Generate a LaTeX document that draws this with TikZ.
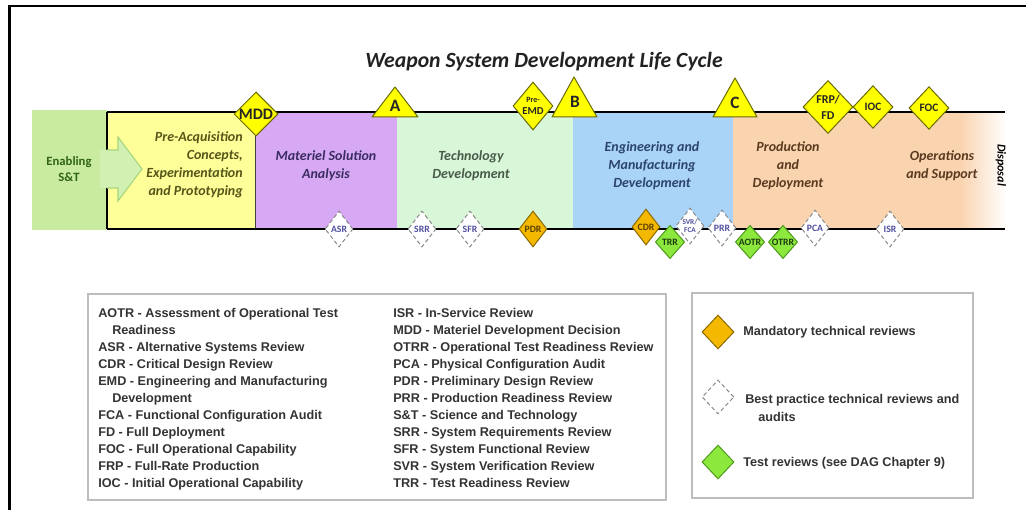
\documentclass[tikz,border=0pt]{standalone}
\usepackage{fontspec}
\setmainfont{Carlito}
\newfontfamily\legfont{Liberation Sans}
\usetikzlibrary{shapes.geometric}
\definecolor{encol}{HTML}{C8EBA0}
\definecolor{arrowfill}{HTML}{D2F0B2}
\definecolor{arrowedge}{HTML}{A4D67C}
\definecolor{yelbox}{HTML}{FFFF99}
\definecolor{purbox}{HTML}{D7A9F5}
\definecolor{grnbox}{HTML}{D8F7D8}
\definecolor{blubox}{HTML}{A9D4F7}
\definecolor{orgbox}{HTML}{FAD3AF}
\definecolor{msyel}{HTML}{FFFF00}
\definecolor{msedge}{HTML}{6B6B00}
\definecolor{mandfill}{HTML}{F5B800}
\definecolor{mandedge}{HTML}{8A6A00}
\definecolor{mandtext}{HTML}{5A4000}
\definecolor{testfill}{HTML}{8CE83C}
\definecolor{testedge}{HTML}{4E9A1E}
\definecolor{testtext}{HTML}{1E3A10}
\definecolor{bpedge}{HTML}{8A8A8A}
\definecolor{bptext}{HTML}{5050A0}
\definecolor{legtext}{HTML}{333333}
\definecolor{legframe}{HTML}{BDBDBD}
\definecolor{titlecol}{HTML}{222222}
\definecolor{entext}{HTML}{2F6414}
\definecolor{pretext}{HTML}{56561A}
\definecolor{mattext}{HTML}{3A2C60}
\definecolor{techtext}{HTML}{4A5A4A}
\definecolor{emdtext}{HTML}{2C4470}
\definecolor{prodtext}{HTML}{5A3A20}
\newcommand{\revd}[5]{\node[#2] (#1) at (#3,#4) {}; \node[#2t] (#1t) at (#1) {#5};}
\begin{document}
\begin{tikzpicture}[x=0.75pt,y=-0.75pt,
  bandline/.style={line width=1.9pt},
  msdia/.style={diamond, inner sep=0pt, fill=msyel, draw=msedge, line width=0.75pt},
  mslab/.style={font=\bfseries, text=black!85, inner sep=0pt, align=center},
  tri/.style={fill=msyel, draw=msedge, line width=0.75pt, line join=round},
  mand/.style={diamond, inner sep=0pt, minimum width=21pt, minimum height=27pt, fill=mandfill, draw=mandedge, line width=0.75pt},
  mandt/.style={font=\fontsize{7.3}{8}\selectfont\bfseries, text=mandtext, inner sep=0pt},
  testr/.style={diamond, inner sep=0pt, minimum width=22pt, minimum height=25pt, fill=testfill, draw=testedge, line width=0.75pt},
  testrt/.style={font=\fontsize{7.3}{8}\selectfont\bfseries, text=testtext, inner sep=0pt},
  bestp/.style={diamond, inner sep=0pt, minimum width=21pt, minimum height=27pt, fill=white, draw=bpedge, line width=0.75pt, dash pattern=on 3pt off 2pt},
  bestpt/.style={font=\fontsize{7.3}{8}\selectfont\bfseries, text=bptext, inner sep=0pt, align=center},
  phase/.style={font=\fontsize{10.5}{13.4}\selectfont\bfseries\itshape, inner sep=0pt, align=center},
  legend/.style={font=\legfont\fontsize{9.5}{12.75}\selectfont\bfseries, text=legtext, inner sep=0pt, align=left},
  legbox/.style={draw=legframe, line width=1.1pt}
]
\useasboundingbox (0,0) rectangle (1026,510);
\fill[white] (0,0) rectangle (1026,510);
% outer frame
\draw[line width=1.9pt] (9.5,510) -- (9.5,6) -- (1026,6);
% title
\node[font=\fontsize{16.3}{19}\selectfont\bfseries\itshape, text=titlecol] (title) at (544,62) {Weapon System Development Life Cycle};
% phase areas
\fill[encol] (32,110) rectangle (107,230);
\fill[yelbox] (107,112) rectangle (255,229);
\fill[purbox] (255,112) rectangle (397,229);
\fill[grnbox] (397,112) rectangle (573,229);
\fill[blubox] (573,112) rectangle (733,229);
\fill[orgbox] (733,112) rectangle (961,229);
\shade[left color=orgbox, right color=white] (960,112) rectangle (1006,229);
\draw[black!75, line width=0.6pt] (255,112) -- (255,229);
\draw[line width=1.5pt] (107,112) -- (107,150) (107,188) -- (107,229);
% enabling arrow
\fill[arrowfill] (100,150) -- (118,150) -- (118,137) -- (142,169) -- (118,201) -- (118,188) -- (100,188) -- cycle;
\draw[arrowedge, line width=0.8pt] (107,150) -- (118,150) -- (118,137) -- (142,169) -- (118,201) -- (118,188) -- (107,188);
% band lines
\draw[bandline] (107,112) -- (1005,112);
\draw[bandline] (107,229) -- (1005,229);
% phase texts
\node[phase, font=\fontsize{9.5}{11.5}\selectfont\bfseries, text=entext] (enab) at (69,169) {Enabling\\S\&T};
\node[phase, align=right, anchor=east, text=pretext] (preacq) at (243,165) {Pre-Acquisition\\Concepts,\\Experimentation\\and Prototyping};
\node[phase, text=mattext] (msa) at (326,166) {Materiel Solution\\Analysis};
\node[phase, text=techtext] (td) at (471,166) {Technology\\Development};
\node[phase, text=emdtext] (emd) at (652,166) {Engineering and\\Manufacturing\\Development};
\node[phase, text=prodtext] (pd) at (788,166) {Production\\and\\Deployment};
\node[phase, text=prodtext] (os) at (942,166) {Operations\\and Support};
\node[font=\fontsize{9}{10}\selectfont\bfseries\itshape, rotate=-90, inner sep=0pt] (disp) at (1001,165) {Disposal};
% milestones (top)
\node[msdia, minimum size=33pt] (mdd) at (256,114) {};
\node[mslab, font=\fontsize{12}{12}\selectfont\bfseries] (mddt) at (mdd) {MDD};
\filldraw[tri] (372,117) -- (395,87) -- (418,117) -- cycle;
\node[mslab, font=\fontsize{13}{13}\selectfont\bfseries] (msA) at (395,106) {A};
\node[msdia, minimum width=30pt, minimum height=36pt] (pemd) at (533,106) {};
\node[mslab, font=\fontsize{8}{8.5}\selectfont\bfseries] (pemdt) at (pemd) {{\fontsize{6}{7}\selectfont Pre-}\\EMD};
\filldraw[tri] (552,117) -- (574,77) -- (597,117) -- cycle;
\node[mslab, font=\fontsize{13}{13}\selectfont\bfseries] (msB) at (575,102) {B};
\filldraw[tri] (713,117) -- (735,78) -- (757,117) -- cycle;
\node[mslab, font=\fontsize{13}{13}\selectfont\bfseries] (msC) at (735,103) {C};
\node[msdia, minimum width=37.5pt, minimum height=39.75pt] (frp) at (828,107) {};
\node[mslab, font=\fontsize{9}{12}\selectfont\bfseries] (frpt) at (frp) {FRP/\\FD};
\node[msdia, minimum width=30pt, minimum height=32pt] (ioc) at (873,107) {};
\node[mslab, font=\fontsize{8.5}{9}\selectfont\bfseries] (ioct) at (ioc) {IOC};
\node[msdia, minimum width=30pt, minimum height=32pt] (foc) at (929,108) {};
\node[mslab, font=\fontsize{8.5}{9}\selectfont\bfseries] (foct) at (foc) {FOC};
% reviews (bottom)
\revd{asr}{bestp}{339}{229}{ASR}
\revd{srr}{bestp}{422}{229}{SRR}
\revd{sfr}{bestp}{470}{229}{SFR}
\revd{pdr}{mand}{533}{229}{PDR}
\revd{cdr}{mand}{646}{227}{CDR}
\node[bestp] (svr) at (690,226) {};
\node[bestpt, font=\fontsize{5.5}{5.8}\selectfont\bfseries] (svrt) at (svr) {SVR/\\FCA};
\revd{prr}{bestp}{722}{228}{PRR}
\revd{pca}{bestp}{815}{228}{PCA}
\revd{isr}{bestp}{890}{229}{ISR}
\revd{trr}{testr}{670}{242}{TRR}
\revd{aotr}{testr}{750}{242}{AOTR}
\revd{otrr}{testr}{783}{242}{OTRR}
% legend boxes
\draw[legbox] (88,294) rectangle (666,500);
\draw[legbox] (692,293) rectangle (973,498);
\node[legend, anchor=north west] (leg1) at (98,308) {AOTR - Assessment of Operational Test\\\hspace*{10.5pt}Readiness\\ASR - Alternative Systems Review\\CDR - Critical Design Review\\EMD - Engineering and Manufacturing\\\hspace*{10.5pt}Development\\FCA - Functional Configuration Audit\\FD - Full Deployment\\FOC - Full Operational Capability\\FRP - Full-Rate Production\\IOC - Initial Operational Capability};
\node[legend, anchor=north west] (leg2) at (393,308) {ISR - In-Service Review\\MDD - Materiel Development Decision\\OTRR - Operational Test Readiness Review\\PCA - Physical Configuration Audit\\PDR - Preliminary Design Review\\PRR - Production Readiness Review\\S\&T - Science and Technology\\SRR - System Requirements Review\\SFR - System Functional Review\\SVR - System Verification Review\\TRR - Test Readiness Review};
\node[mand, minimum width=24pt, minimum height=25.5pt] (lgm) at (718,332) {};
\node[legend, anchor=west] (lgmt) at (743,332) {Mandatory technical reviews};
\node[bestp, minimum width=24pt, minimum height=25.5pt] (lgb) at (718,397) {};
\node[legend, anchor=north west, font=\legfont\fontsize{9.5}{13.5}\selectfont\bfseries] (lgbt) at (745,394) {Best practice technical reviews and\\\hspace*{9.75pt}audits};
\node[testr, minimum width=24pt, minimum height=25.5pt] (lgt) at (718,462) {};
\node[legend, anchor=west] (lgtt) at (743,463) {Test reviews (see DAG Chapter 9)};
\end{tikzpicture}
\end{document}
